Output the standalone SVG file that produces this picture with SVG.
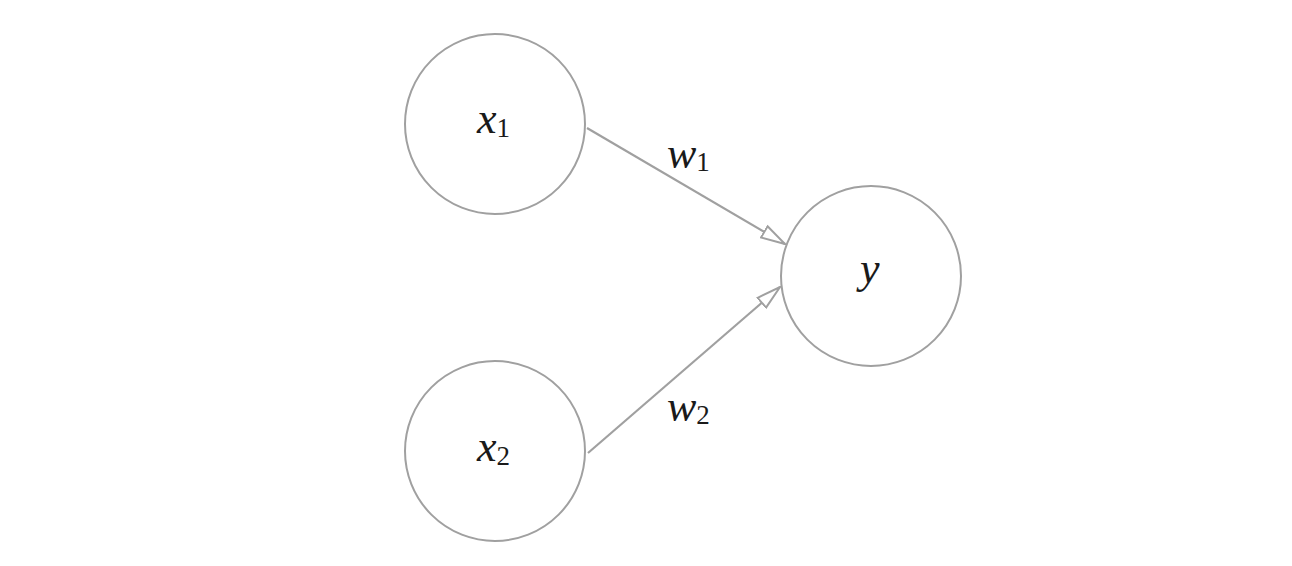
<svg xmlns="http://www.w3.org/2000/svg" width="1292" height="566" viewBox="0 0 1292 566">
<style>
.node{fill:#fff;stroke:#a0a0a0;stroke-width:2}
.edge{stroke:#a0a0a0;stroke-width:2.2;fill:none}
.m{font-family:'Liberation Serif','DejaVu Serif',serif;font-style:italic;font-size:44px;fill:#1a1a1a}
.s{font-family:'Liberation Serif','DejaVu Serif',serif;font-style:normal;font-size:27px;fill:#1a1a1a}
</style>
<defs>
<marker id="arr" viewBox="0 0 26 16" refX="25" refY="8" markerWidth="26" markerHeight="16" markerUnits="userSpaceOnUse" orient="auto">
<path d="M1,1.5 L25,8 L1,14.5 Z" fill="#fff" stroke="#a0a0a0" stroke-width="2"/>
</marker>
</defs>
<rect width="1292" height="566" fill="#fff"/>
<g id="edges">
<line class="edge" x1="587" y1="128" x2="785" y2="244" marker-end="url(#arr)"/>
<line class="edge" x1="588" y1="453" x2="780" y2="287" marker-end="url(#arr)"/>
<text x="667" y="168" class="m">w<tspan class="s" dy="3">1</tspan></text>
<text x="667" y="421" class="m">w<tspan class="s" dy="3">2</tspan></text>
</g>
<g id="x1">
<circle class="node" cx="495" cy="124" r="90"/>
<text x="477" y="133" class="m">x<tspan class="s" dy="4">1</tspan></text>
</g>
<g id="x2">
<circle class="node" cx="495" cy="451" r="90"/>
<text x="477" y="461" class="m">x<tspan class="s" dy="4">2</tspan></text>
</g>
<g id="y">
<circle class="node" cx="871" cy="276" r="90"/>
<text x="860" y="283" class="m">y</text>
</g>
</svg>
